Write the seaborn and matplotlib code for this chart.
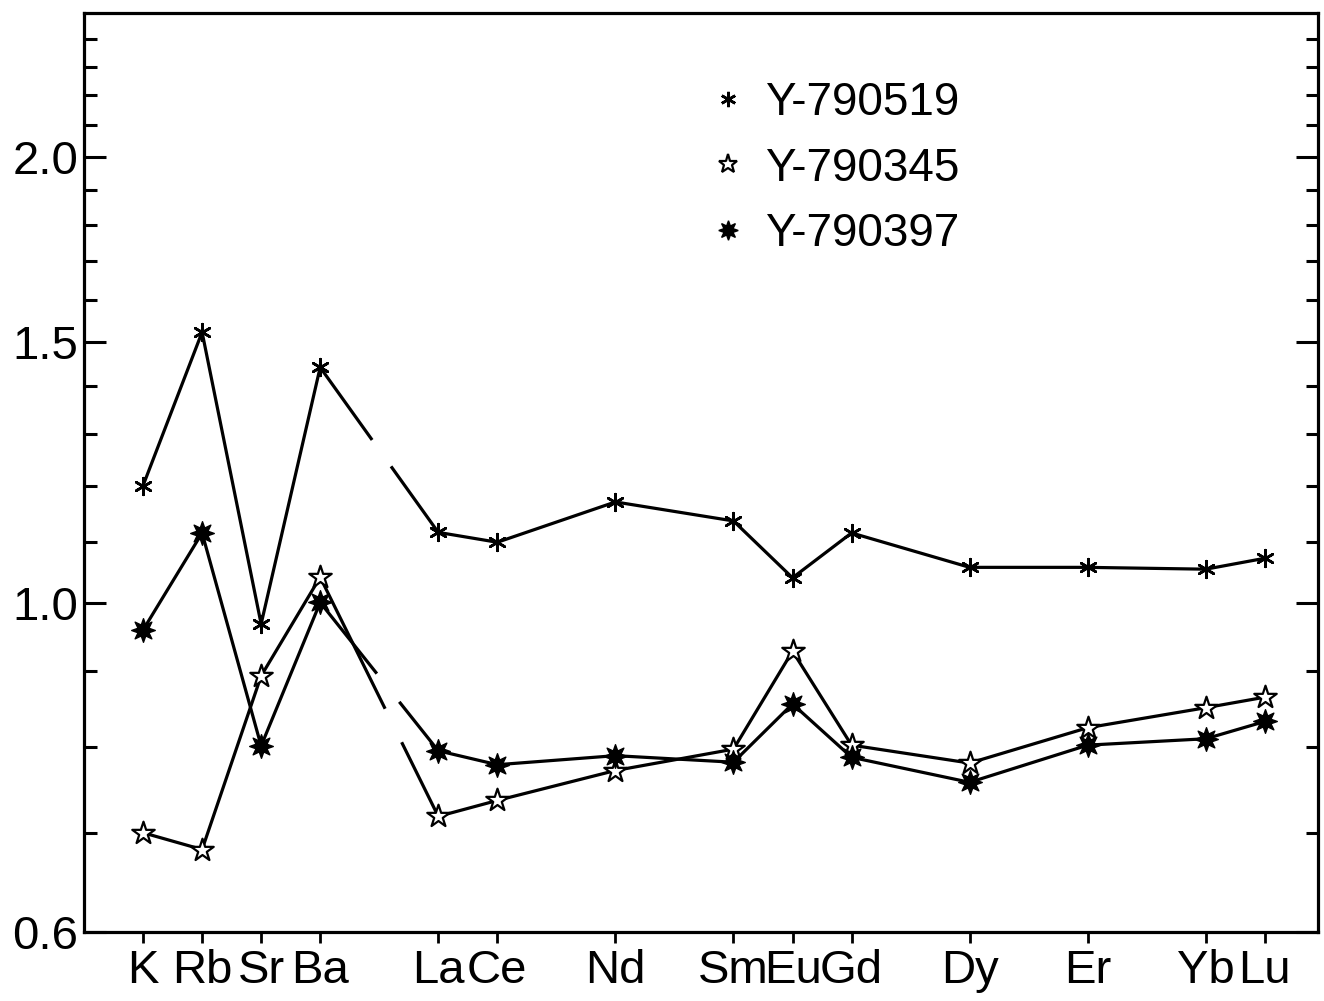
import numpy as np
import pandas as pd
import matplotlib
matplotlib.use("Agg")
import matplotlib.pyplot as plt
from matplotlib.lines import Line2D
from matplotlib.ticker import FixedLocator, FixedFormatter, NullFormatter
import seaborn as sns

# ---------------- data ----------------
elements = ["K", "Rb", "Sr", "Ba", "La", "Ce", "Nd", "Sm", "Eu", "Gd", "Dy", "Er", "Yb", "Lu"]
element_pos = [0, 1, 2, 3, 5, 6, 8, 10, 11, 12, 14, 16, 18, 19]

y790519 = [1.200, 1.523, 0.968, 1.442, 1.116, 1.099, 1.170, 1.136, 1.040, 1.115, 1.057, 1.057, 1.054, 1.072]
y790345 = [0.700, 0.682, 0.893, 1.041, 0.718, 0.736, 0.771, 0.797, 0.928, 0.802, 0.780, 0.824, 0.850, 0.864]
y790397 = [0.959, 1.115, 0.801, 1.001, 0.795, 0.778, 0.789, 0.781, 0.855, 0.787, 0.757, 0.802, 0.810, 0.832]

series_names = ["Y-790519", "Y-790345", "Y-790397"]
series_values = [y790519, y790345, y790397]

y_major = [0.6, 1.0, 1.5, 2.0]
y_major_labels = ["0.6", "1.0", "1.5", "2.0"]
y_minor = [0.7, 0.8, 0.9, 1.1, 1.2, 1.3, 1.4, 1.6, 1.7, 1.8, 1.9, 2.1, 2.2, 2.3, 2.4]

# gap (fraction of Ba-La segment) in the broken connector
gap_frac = [(0.44, 0.60), (0.55, 0.69), (0.48, 0.67)]

# ---------------- style ----------------
sns.set_theme(style="white")
plt.rcParams["font.family"] = ["Liberation Sans Narrow", "Liberation Sans", "DejaVu Sans"]
plt.rcParams["lines.scale_dashes"] = False

W, H, DPI = 1324, 1001, 100
fig = plt.figure(figsize=(W / DPI, H / DPI), dpi=DPI)
fig.patch.set_facecolor("white")
ax = fig.add_axes([84 / W, 1 - 932 / H, (1318 - 84) / W, (932 - 13) / H])
ax.set_facecolor("white")

ax.set_yscale("log")
ax.set_xlim(-1.0, 19.9)
ax.set_ylim(0.6, 2.5)

marker_styles = [
    dict(marker=(6, 2, 0), markersize=12, markeredgewidth=1.9, markerfacecolor="black", markeredgecolor="black"),
    dict(marker="*", markersize=17, markeredgewidth=1.6, markerfacecolor="white", markeredgecolor="black"),
    dict(marker=(8, 1, 0), markersize=17, markeredgewidth=1.0, markerfacecolor="black", markeredgecolor="black"),
]

split = 4  # first index of the REE part (La)
for name, vals, ms in zip(series_names, series_values, marker_styles):
    df = pd.DataFrame({"x": element_pos, "y": vals})
    for part in (df.iloc[:split], df.iloc[split:]):
        sns.lineplot(data=part, x="x", y="y", ax=ax, color="black", linewidth=2.3,
                     estimator=None, sort=False, legend=False, zorder=2)
    sns.scatterplot(data=df, x="x", y="y", ax=ax, legend=False, zorder=3,
                    marker=ms["marker"], s=ms["markersize"] ** 2,
                    facecolor=ms["markerfacecolor"], edgecolor=ms["markeredgecolor"],
                    linewidth=ms["markeredgewidth"])

# broken connector Ba -> La
fig.canvas.draw()
for vals, (f1, f2) in zip(series_values, gap_frac):
    xs = [element_pos[split - 1], element_pos[split]]
    ys = [vals[split - 1], vals[split]]
    p = ax.transData.transform(np.column_stack([xs, ys]))
    L = np.hypot(*(p[1] - p[0])) * 72.0 / DPI
    ax.plot(xs, ys, color="black", linewidth=2.3, zorder=2,
            dashes=[f1 * L, (f2 - f1) * L, L * 2, 1])

# ---------------- axes ----------------
for s in ax.spines.values():
    s.set_linewidth(2.3)
    s.set_color("black")
    s.set_visible(True)

ax.set_xticks(element_pos)
ax.set_xticklabels(elements)
ax.yaxis.set_major_locator(FixedLocator(y_major))
ax.yaxis.set_major_formatter(FixedFormatter(y_major_labels))
ax.yaxis.set_minor_locator(FixedLocator(y_minor))
ax.yaxis.set_minor_formatter(NullFormatter())

ax.tick_params(axis="y", which="major", direction="in", left=True, right=True,
               length=16, width=2.2, labelsize=34, pad=4, color="black", labelcolor="black")
ax.tick_params(axis="y", which="minor", direction="in", left=True, right=True,
               length=9, width=2.2, color="black")
ax.tick_params(axis="x", which="major", direction="out", bottom=True, top=False,
               length=8, width=2.0, labelsize=34, pad=4, color="black", labelcolor="black")
ax.set_xlabel("")
ax.set_ylabel("")
ax.grid(False)

# ---------------- legend ----------------
handles = [Line2D([], [], linestyle="none", color="black", **ms) for ms in marker_styles]
handles[0].set_markersize(11)
handles[1].set_markersize(14)
handles[2].set_markersize(14)
leg = ax.legend(handles, series_names, loc="upper left", frameon=False,
                bbox_to_anchor=(705 / W, 1 - 81 / H), bbox_transform=fig.transFigure,
                fontsize=33, handlelength=1.0, handletextpad=0.3, labelspacing=0.47,
                borderaxespad=0, borderpad=0)
for t in leg.get_texts():
    t.set_color("black")

fig.savefig("out.png", dpi=DPI, facecolor="white")
